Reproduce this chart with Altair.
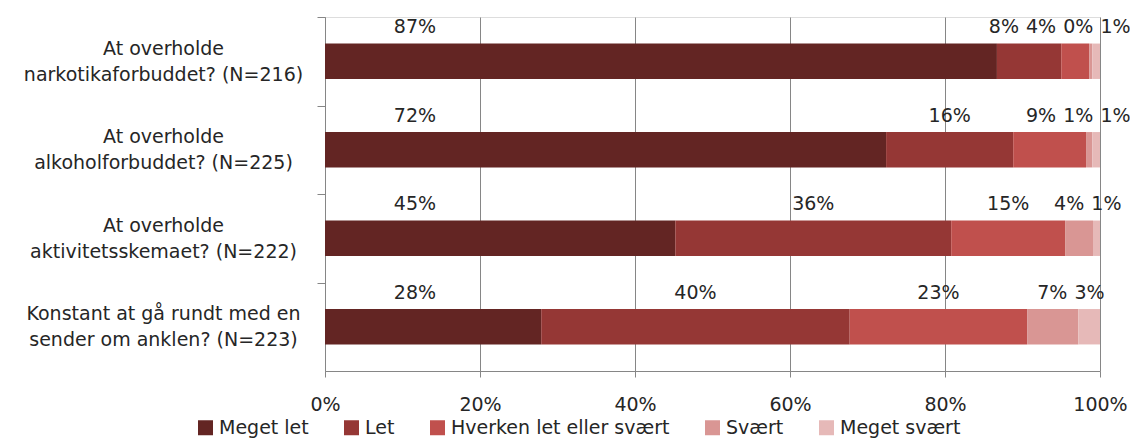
import altair as alt
import pandas as pd

# ---- data ----
categories = [
    "At overholde|narkotikaforbuddet? (N=216)",
    "At overholde|alkoholforbuddet? (N=225)",
    "At overholde|aktivitetsskemaet? (N=222)",
    "Konstant at gå rundt med en|sender om anklen? (N=223)",
]
responses = ["Meget let", "Let", "Hverken let eller svært", "Svært", "Meget svært"]
meget_let = [86.7, 72.4, 45.2, 27.9]
let_ = [8.3, 16.4, 35.6, 39.8]
hverken = [3.6, 9.4, 14.7, 22.9]
svaert = [0.4, 0.8, 3.6, 6.6]
meget_svaert = [1.0, 1.0, 0.9, 2.8]

colors = ["#632523", "#953735", "#C0504D", "#D99694", "#E6B9B8"]
FONT = "DejaVu Sans"
FS = 19
TEXT = "#262626"
GRID = "#868686"

W, H = 775, 354
HALF_STEP = H / 4 / 2

series = [meget_let, let_, hverken, svaert, meget_svaert]

FIRST_LABEL_OFFSET = 11.6  # first segment's label sits near the bar base
LABEL_GAP = 4.8            # min spacing (in % units) between value labels
LABEL_MAX = 102.0          # labels may not run further right than this


def spread(mids, gap, limit):
    groups = [[m] for m in mids]

    def pos(g):
        c = sum(g) / len(g)
        n = len(g)
        return [c + (i - (n - 1) / 2) * gap for i in range(n)]

    changed = True
    while changed:
        changed = False
        for i in range(len(groups) - 1):
            if pos(groups[i + 1])[0] - pos(groups[i])[-1] < gap - 1e-9:
                groups[i] = groups[i] + groups[i + 1]
                del groups[i + 1]
                changed = True
                break
    out = []
    for g in groups:
        out += pos(g)
    excess = max(0.0, out[-1] - limit)
    if excess:
        last = groups[-1]
        k = len(out) - len(last)
        out = out[:k] + [p - excess for p in out[k:]]
    return out


rows = []
for ci, cat in enumerate(categories):
    start = 0.0
    mids = []
    segs = []
    for ri, resp in enumerate(responses):
        v = series[ri][ci]
        segs.append((resp, ri, start, start + v, v))
        mids.append(start + v / 2)
        start += v
    lx = [segs[0][2] + FIRST_LABEL_OFFSET] + spread(mids[1:], LABEL_GAP, LABEL_MAX)
    for (resp, ri, s, e, v), x in zip(segs, lx):
        rows.append(dict(cat=cat, resp=resp, order=ri, start=s, end=e,
                         value=v, label=f"{round(v):.0f}%", lx=x))
df = pd.DataFrame(rows)

y_enc = alt.Y(
    "cat:N",
    sort=categories,
    title=None,
    scale=alt.Scale(paddingInner=0.6, paddingOuter=0.3),
    axis=alt.Axis(
        labelExpr="split(datum.label, '|')",
        labelAlign="center",
        labelBaseline="middle",
        labelPadding=154,
        labelLimit=500,
        labelLineHeight=26,
        labelFontSize=FS,
        labelColor=TEXT,
        labelFont=FONT,
        tickOffset=-HALF_STEP,
        labelOffset=HALF_STEP - 13,
        tickSize=8,
        tickColor=GRID,
        domainColor=GRID,
        grid=False,
    ),
)

x_scale = alt.Scale(domain=[0, 100], nice=False)

bars = alt.Chart(df).mark_bar().encode(
    y=y_enc,
    x=alt.X(
        "start:Q",
        scale=x_scale,
        title=None,
        axis=alt.Axis(
            values=[0, 20, 40, 60, 80, 100],
            labelExpr="datum.value + '%'",
            labelFontSize=FS,
            labelColor=TEXT,
            labelFont=FONT,
            labelFlush=False,
            labelPadding=18,
            tickSize=6,
            tickColor=GRID,
            domainColor=GRID,
            gridColor=GRID,
            grid=True,
        ),
    ),
    x2="end:Q",
    color=alt.Color(
        "resp:N",
        sort=responses,
        scale=alt.Scale(domain=responses, range=colors),
        legend=alt.Legend(
            title=None,
            orient="none",
            direction="horizontal",
            legendX=-129,
            legendY=401,
            symbolType="square",
            symbolSize=225,
            symbolStrokeWidth=0,
            labelFontSize=FS,
            labelFont=FONT,
            labelColor=TEXT,
            labelOffset=4,
            labelLimit=400,
            columnPadding=33,
        ),
    ),
    order=alt.Order("order:Q"),
)

labels = alt.Chart(df).mark_text(
    fontSize=FS, font=FONT, color=TEXT, baseline="alphabetic", align="center", dy=-28
).encode(
    y=alt.Y("cat:N", sort=categories),
    x=alt.X("lx:Q", scale=x_scale),
    text="label:N",
)

chart = (
    alt.layer(bars, labels)
    .properties(
        width=W,
        height=H,
        autosize=alt.AutoSizeParams(type="none"),
        padding={"left": 317, "top": 9, "right": 30, "bottom": 67},
    )
    .configure_view(stroke=None)
    .configure(font=FONT)
)

chart.save("out.html", embed_options={"renderer": "svg", "actions": False})
